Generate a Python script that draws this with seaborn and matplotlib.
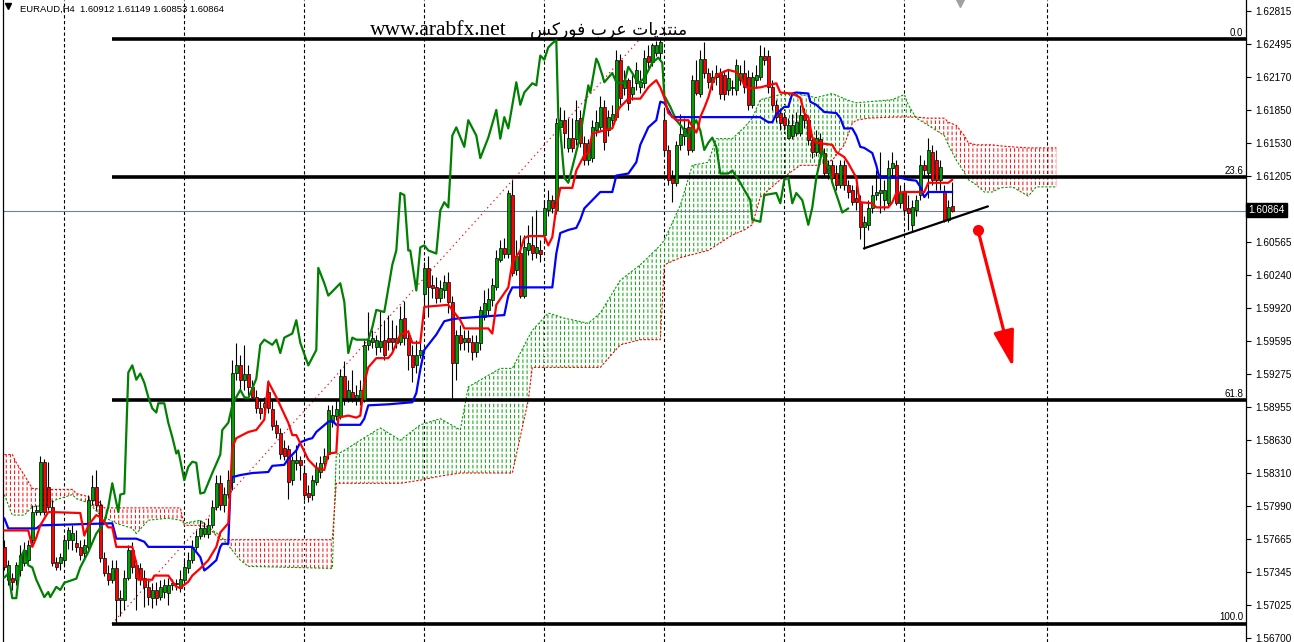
import numpy as np
import matplotlib
matplotlib.use("Agg")
import matplotlib.pyplot as plt
import seaborn as sns

# ---- values (x = bar index, y = price) ----
header_text = "EURAUD,H4  1.60912 1.61149 1.60853 1.60864"
last_price = 1.60864

bar_open = [
    1.5759, 1.5727, 1.5729, 1.5727, 1.5736, 1.5743, 1.5746, 1.5766, 1.5793, 1.5793,
    1.5842, 1.5817, 1.5798, 1.5744, 1.5743, 1.5746, 1.5766, 1.5766, 1.5763, 1.5759,
    1.5753, 1.5759, 1.5805, 1.5817, 1.5800, 1.5748, 1.5734, 1.5727, 1.5738, 1.5707,
    1.5707, 1.5729, 1.5756, 1.5741, 1.5738, 1.5729, 1.5720, 1.5709, 1.5717, 1.5710,
    1.5715, 1.5714, 1.5722, 1.5724, 1.5719, 1.5727, 1.5738, 1.5746, 1.5759, 1.5770,
    1.5772, 1.5772, 1.5780, 1.5798, 1.5821, 1.5800, 1.5811, 1.5822, 1.5929, 1.5936,
    1.5922, 1.5928, 1.5915, 1.5905, 1.5894, 1.5895, 1.5910, 1.5893, 1.5878, 1.5870,
    1.5855, 1.5854, 1.5824, 1.5841, 1.5844, 1.5831, 1.5812, 1.5810, 1.5822, 1.5832,
    1.5841, 1.5850, 1.5881, 1.5887, 1.5887, 1.5926, 1.5904, 1.5910, 1.5904, 1.5904,
    1.5902, 1.5956, 1.5959, 1.5954, 1.5954, 1.5961, 1.5963, 1.5963, 1.5958, 1.5959,
    1.5982, 1.5963, 1.5946, 1.5936, 1.5946, 1.6006, 1.6031, 1.6014, 1.6012, 1.6002,
    1.6009, 1.6017, 1.5998, 1.5938, 1.5966, 1.5959, 1.5963, 1.5959, 1.5949, 1.5958,
    1.5983, 1.5990, 1.6000, 1.6012, 1.6039, 1.6050, 1.6045, 1.6102, 1.6029, 1.6046,
    1.6004, 1.6048, 1.6053, 1.6046, 1.6048, 1.6063, 1.6087, 1.6097, 1.6087, 1.6168,
    1.6175, 1.6148, 1.6158, 1.6157, 1.6177, 1.6153, 1.6136, 1.6138, 1.6165, 1.6168,
    1.6188, 1.6165, 1.6175, 1.6178, 1.6234, 1.6206, 1.6214, 1.6201, 1.6211, 1.6207,
    1.6211, 1.6238, 1.6232, 1.6241, 1.6241, 1.6175, 1.6146, 1.6119, 1.6114, 1.6151,
    1.6160, 1.6168, 1.6146, 1.6214, 1.6201, 1.6235, 1.6221, 1.6212, 1.6217, 1.6221,
    1.6219, 1.6204, 1.6206, 1.6204, 1.6214, 1.6221, 1.6217, 1.6190, 1.6214, 1.6217,
    1.6238, 1.6238, 1.6207, 1.6190, 1.6182, 1.6178, 1.6158, 1.6160, 1.6163, 1.6163,
    1.6180, 1.6175, 1.6156, 1.6144, 1.6157, 1.6143, 1.6124, 1.6131, 1.6124, 1.6112,
    1.6131, 1.6112, 1.6107, 1.6099, 1.6095, 1.6071, 1.6073, 1.6089, 1.6102, 1.6104,
    1.6097, 1.6094, 1.6128, 1.6131, 1.6094, 1.6105, 1.6089, 1.6073, 1.6087, 1.6102,
    1.6131, 1.6124, 1.6144, 1.6136, 1.6117, 1.6105, 1.6078, 1.60912,
]
bar_high = [
    1.5766, 1.5746, 1.5734, 1.5744, 1.5761, 1.5764, 1.5766, 1.5800, 1.5800, 1.5848,
    1.5845, 1.5842, 1.5805, 1.5749, 1.5753, 1.5770, 1.5778, 1.5780, 1.5775, 1.5766,
    1.5767, 1.5810, 1.5829, 1.5834, 1.5805, 1.5754, 1.5741, 1.5746, 1.5746, 1.5717,
    1.5736, 1.5761, 1.5764, 1.5746, 1.5743, 1.5736, 1.5727, 1.5724, 1.5725, 1.5727,
    1.5728, 1.5729, 1.5728, 1.5728, 1.5736, 1.5746, 1.5754, 1.5766, 1.5775, 1.5785,
    1.5783, 1.5787, 1.5805, 1.5829, 1.5829, 1.5817, 1.5834, 1.5941, 1.5958, 1.5946,
    1.5956, 1.5936, 1.5922, 1.5912, 1.5902, 1.5905, 1.5922, 1.5902, 1.5883, 1.5875,
    1.5863, 1.5858, 1.5848, 1.5858, 1.5848, 1.5839, 1.5819, 1.5829, 1.5842, 1.5848,
    1.5855, 1.5897, 1.5897, 1.5902, 1.5932, 1.5940, 1.5922, 1.5931, 1.5917, 1.5922,
    1.5961, 1.5988, 1.5970, 1.5966, 1.5990, 1.5980, 1.5985, 1.5980, 1.5975, 1.5994,
    1.5999, 1.5970, 1.5956, 1.5961, 1.5961, 1.6037, 1.6043, 1.6024, 1.6022, 1.6019,
    1.6024, 1.6027, 1.6004, 1.5970, 1.5975, 1.5970, 1.5970, 1.5966, 1.5966, 1.5994,
    1.6009, 1.6011, 1.6021, 1.6048, 1.6058, 1.6060, 1.6107, 1.6117, 1.6058, 1.6063,
    1.6063, 1.6073, 1.6082, 1.6087, 1.6058, 1.6097, 1.6107, 1.6102, 1.6177, 1.6188,
    1.6185, 1.6177, 1.6177, 1.6195, 1.6185, 1.6160, 1.6157, 1.6175, 1.6185, 1.6199,
    1.6195, 1.6185, 1.6190, 1.6243, 1.6240, 1.6224, 1.6216, 1.6219, 1.6232, 1.6224,
    1.6243, 1.6248, 1.6250, 1.6252, 1.6254, 1.6185, 1.6151, 1.6126, 1.6155, 1.6181,
    1.6177, 1.6175, 1.6219, 1.6234, 1.6243, 1.6251, 1.6226, 1.6224, 1.6229, 1.6226,
    1.6224, 1.6224, 1.6214, 1.6235, 1.6229, 1.6234, 1.6224, 1.6222, 1.6229, 1.6248,
    1.6246, 1.6243, 1.6214, 1.6195, 1.6187, 1.6183, 1.6177, 1.6181, 1.6183, 1.6190,
    1.6187, 1.6180, 1.6160, 1.6165, 1.6163, 1.6148, 1.6136, 1.6136, 1.6131, 1.6136,
    1.6136, 1.6117, 1.6112, 1.6112, 1.6102, 1.6082, 1.6097, 1.6112, 1.6126, 1.6144,
    1.6117, 1.6136, 1.6144, 1.6136, 1.6112, 1.6112, 1.6102, 1.6097, 1.6102, 1.6141,
    1.6136, 1.6158, 1.6151, 1.6146, 1.6136, 1.6112, 1.6097, 1.61149,
]
bar_low = [
    1.5736, 1.5722, 1.5717, 1.5722, 1.5731, 1.5740, 1.5744, 1.5761, 1.5790, 1.5790,
    1.5790, 1.5795, 1.5740, 1.5736, 1.5736, 1.5741, 1.5757, 1.5756, 1.5754, 1.5746,
    1.5746, 1.5756, 1.5800, 1.5795, 1.5744, 1.5731, 1.5722, 1.5724, 1.5685, 1.5692,
    1.5697, 1.5727, 1.5734, 1.5697, 1.5722, 1.5700, 1.5702, 1.5699, 1.5702, 1.5707,
    1.5709, 1.5702, 1.5717, 1.5717, 1.5715, 1.5724, 1.5734, 1.5743, 1.5756, 1.5767,
    1.5769, 1.5768, 1.5777, 1.5795, 1.5795, 1.5793, 1.5807, 1.5814, 1.5922, 1.5912,
    1.5912, 1.5907, 1.5902, 1.5890, 1.5884, 1.5890, 1.5890, 1.5873, 1.5865, 1.5845,
    1.5844, 1.5806, 1.5819, 1.5834, 1.5824, 1.5805, 1.5803, 1.5805, 1.5819, 1.5826,
    1.5837, 1.5845, 1.5876, 1.5883, 1.5884, 1.5897, 1.5900, 1.5900, 1.5897, 1.5897,
    1.5900, 1.5951, 1.5953, 1.5946, 1.5949, 1.5941, 1.5951, 1.5951, 1.5953, 1.5956,
    1.5956, 1.5931, 1.5920, 1.5929, 1.5943, 1.5983, 1.5983, 1.6002, 1.5997, 1.5998,
    1.6002, 1.5987, 1.5904, 1.5922, 1.5951, 1.5951, 1.5949, 1.5941, 1.5944, 1.5951,
    1.5980, 1.5985, 1.5994, 1.6009, 1.6037, 1.6041, 1.6041, 1.6023, 1.6024, 1.6002,
    1.6002, 1.6044, 1.6039, 1.6041, 1.6037, 1.6058, 1.6082, 1.6085, 1.6084, 1.6160,
    1.6148, 1.6144, 1.6144, 1.6151, 1.6149, 1.6131, 1.6131, 1.6134, 1.6160, 1.6165,
    1.6146, 1.6160, 1.6168, 1.6175, 1.6190, 1.6200, 1.6185, 1.6195, 1.6204, 1.6202,
    1.6206, 1.6226, 1.6228, 1.6238, 1.6235, 1.6141, 1.6112, 1.6095, 1.6111, 1.6146,
    1.6151, 1.6141, 1.6144, 1.6200, 1.6198, 1.6216, 1.6206, 1.6204, 1.6209, 1.6196,
    1.6195, 1.6200, 1.6200, 1.6200, 1.6209, 1.6202, 1.6185, 1.6187, 1.6206, 1.6214,
    1.6229, 1.6202, 1.6185, 1.6173, 1.6165, 1.6165, 1.6157, 1.6157, 1.6160, 1.6160,
    1.6167, 1.6151, 1.6138, 1.6140, 1.6138, 1.6120, 1.6118, 1.6117, 1.6107, 1.6109,
    1.6107, 1.6099, 1.6092, 1.6087, 1.6059, 1.6049, 1.6068, 1.6085, 1.6097, 1.6085,
    1.6087, 1.6091, 1.6121, 1.6092, 1.6089, 1.6082, 1.6068, 1.6066, 1.6082, 1.6097,
    1.6121, 1.6099, 1.6112, 1.6107, 1.6107, 1.6076, 1.6076, 1.60853,
]
bar_close = [
    1.5739, 1.5741, 1.5725, 1.5741, 1.5751, 1.5756, 1.5761, 1.5793, 1.5795, 1.5842,
    1.5793, 1.5798, 1.5743, 1.5739, 1.5749, 1.5766, 1.5775, 1.5773, 1.5759, 1.5751,
    1.5761, 1.5805, 1.5817, 1.5800, 1.5748, 1.5734, 1.5727, 1.5738, 1.5707, 1.5709,
    1.5729, 1.5756, 1.5739, 1.5729, 1.5728, 1.5720, 1.5710, 1.5717, 1.5709, 1.5720,
    1.5722, 1.5722, 1.5724, 1.5723, 1.5728, 1.5739, 1.5746, 1.5759, 1.5770, 1.5777,
    1.5777, 1.5780, 1.5798, 1.5821, 1.5800, 1.5811, 1.5824, 1.5929, 1.5936, 1.5922,
    1.5928, 1.5915, 1.5905, 1.5894, 1.5890, 1.5899, 1.5894, 1.5877, 1.5870, 1.5850,
    1.5848, 1.5822, 1.5844, 1.5844, 1.5839, 1.5810, 1.5808, 1.5824, 1.5836, 1.5841,
    1.5848, 1.5892, 1.5888, 1.5893, 1.5926, 1.5904, 1.5912, 1.5904, 1.5907, 1.5912,
    1.5956, 1.5961, 1.5963, 1.5961, 1.5960, 1.5946, 1.5959, 1.5959, 1.5963, 1.5981,
    1.5963, 1.5946, 1.5934, 1.5946, 1.5951, 1.6031, 1.6012, 1.6011, 1.6002, 1.6011,
    1.6017, 1.5998, 1.5938, 1.5966, 1.5958, 1.5963, 1.5959, 1.5949, 1.5959, 1.5990,
    1.5997, 1.6001, 1.6014, 1.6041, 1.6050, 1.6045, 1.6104, 1.6026, 1.6043, 1.6004,
    1.6051, 1.6055, 1.6046, 1.6051, 1.6045, 1.6089, 1.6097, 1.6089, 1.6172, 1.6175,
    1.6163, 1.6158, 1.6148, 1.6175, 1.6153, 1.6136, 1.6153, 1.6168, 1.6173, 1.6188,
    1.6154, 1.6178, 1.6181, 1.6234, 1.6197, 1.6214, 1.6192, 1.6207, 1.6224, 1.6212,
    1.6236, 1.6232, 1.6248, 1.6248, 1.6251, 1.6146, 1.6117, 1.6114, 1.6151, 1.6162,
    1.6167, 1.6146, 1.6214, 1.6202, 1.6235, 1.6221, 1.6212, 1.6217, 1.6221, 1.6201,
    1.6201, 1.6216, 1.6207, 1.6229, 1.6221, 1.6207, 1.6190, 1.6217, 1.6219, 1.6238,
    1.6234, 1.6207, 1.6190, 1.6178, 1.6172, 1.6170, 1.6170, 1.6170, 1.6173, 1.6180,
    1.6175, 1.6156, 1.6144, 1.6158, 1.6143, 1.6124, 1.6131, 1.6119, 1.6112, 1.6131,
    1.6112, 1.6105, 1.6095, 1.6095, 1.6071, 1.6076, 1.6089, 1.6102, 1.6105, 1.6107,
    1.6107, 1.6128, 1.6133, 1.6094, 1.6105, 1.6087, 1.6085, 1.6090, 1.6097, 1.6131,
    1.6126, 1.6146, 1.6117, 1.6117, 1.6129, 1.6078, 1.6090, 1.60864,
]

# Ichimoku lines (vertices: bar index, price)
tenkan_bar = [0, 6, 7, 8, 9, 11, 19, 20, 21, 23, 24, 26, 27, 28, 32, 33, 33.5, 37, 37.5, 41,
              43, 44, 46, 47, 49, 51, 53, 54, 56, 56.5, 57, 58, 61, 63, 65, 66, 68, 71, 72, 73,
              76, 78, 80, 81, 83, 83.5, 86, 88, 89, 90, 91, 93, 96, 97, 99, 101, 102, 104, 105, 111,
              112, 114, 115, 121, 122, 123, 126, 127, 129, 130, 131, 135, 136, 137, 138, 139, 142, 143, 145, 146,
              147, 152, 153, 153.5, 154, 156, 159, 161, 161.5, 163, 164, 165, 166, 168, 171, 173, 173.5, 174, 175, 176,
              177, 178, 181, 183, 184, 185, 186, 189, 193, 194, 197, 199, 200, 201, 202, 203, 207, 208, 210, 211,
              213, 213.5, 214, 217, 218, 221, 222, 223, 225, 230, 231, 236, 237]
tenkan = [1.5775, 1.5775, 1.5759, 1.5768, 1.5780, 1.5793, 1.5792, 1.5770, 1.5780, 1.5790,
          1.5788, 1.5778, 1.5778, 1.5759, 1.5759, 1.5743, 1.5727, 1.5727, 1.5731, 1.5731,
          1.5720, 1.5719, 1.5725, 1.5731, 1.5738, 1.5746, 1.5759, 1.5773, 1.5782, 1.5817,
          1.5856, 1.5865, 1.5871, 1.5873, 1.5883, 1.5920, 1.5905, 1.5880, 1.5868, 1.5868,
          1.5844, 1.5836, 1.5834, 1.5850, 1.5851, 1.5885, 1.5887, 1.5885, 1.5887, 1.5919,
          1.5934, 1.5943, 1.5943, 1.5948, 1.5966, 1.5969, 1.5958, 1.5958, 1.5993, 1.5995,
          1.5990, 1.5980, 1.5972, 1.5972, 1.5967, 1.5995, 1.6012, 1.6036, 1.6048, 1.6060,
          1.6062, 1.6062, 1.6053, 1.6061, 1.6090, 1.6109, 1.6109, 1.6126, 1.6141, 1.6143,
          1.6162, 1.6167, 1.6178, 1.6185, 1.6188, 1.6196, 1.6196, 1.6207, 1.6209, 1.6214,
          1.6207, 1.6197, 1.6182, 1.6175, 1.6175, 1.6163, 1.6168, 1.6178, 1.6187, 1.6197,
          1.6211, 1.6219, 1.6224, 1.6222, 1.6217, 1.6209, 1.6206, 1.6207, 1.6211, 1.6202,
          1.6201, 1.6197, 1.6182, 1.6178, 1.6158, 1.6153, 1.6151, 1.6144, 1.6139, 1.6133,
          1.6119, 1.6104, 1.6095, 1.6094, 1.6090, 1.6090, 1.6095, 1.6104, 1.6105, 1.6105,
          1.6114, 1.6114, 1.6117]

kijun_bar = [0, 1, 8, 9, 27, 28, 33, 35, 36, 47, 49, 50, 51, 53, 54, 54.5, 56, 56.5, 57, 59,
             62, 66, 67, 70, 71, 73, 74, 76, 77, 78, 81, 82, 83, 89, 90, 91, 96, 102, 103, 104,
             105, 107, 108, 110, 112, 114, 125, 126, 127, 137, 138, 139, 141, 143, 144, 145, 147, 149, 152, 153,
             156, 158, 159, 161, 163, 164, 165, 167, 189, 191, 192, 193, 195, 196, 197, 198, 201, 201.5, 203, 205,
             208, 209, 210, 212, 213, 214, 215, 217, 218, 218.5, 219, 224, 226, 228, 229, 230, 231, 237]
kijun = [1.5787, 1.5777, 1.5777, 1.5780, 1.5782, 1.5767, 1.5767, 1.5764, 1.5759, 1.5759,
         1.5749, 1.5736, 1.5739, 1.5746, 1.5759, 1.5762, 1.5762, 1.5814, 1.5827, 1.5829,
         1.5831, 1.5832, 1.5838, 1.5839, 1.5845, 1.5853, 1.5861, 1.5864, 1.5865, 1.5871,
         1.5881, 1.5882, 1.5878, 1.5878, 1.5884, 1.5897, 1.5898, 1.5900, 1.5909, 1.5932,
         1.5951, 1.5961, 1.5966, 1.5979, 1.5981, 1.5982, 1.5985, 1.6004, 1.6012, 1.6012,
         1.6045, 1.6065, 1.6068, 1.6070, 1.6078, 1.6089, 1.6097, 1.6105, 1.6105, 1.6121,
         1.6123, 1.6134, 1.6151, 1.6168, 1.6175, 1.6193, 1.6192, 1.6178, 1.6178, 1.6173,
         1.6173, 1.6181, 1.6188, 1.6188, 1.6201, 1.6202, 1.6201, 1.6193, 1.6190, 1.6183,
         1.6182, 1.6177, 1.6167, 1.6167, 1.6160, 1.6149, 1.6148, 1.6143, 1.6131, 1.6123,
         1.6119, 1.6119, 1.6117, 1.6116, 1.6110, 1.6100, 1.6105, 1.6105]

chikou_bar = [0, 1, 2, 3, 3.5, 4, 5, 6, 7, 8, 10, 11, 11.5, 13, 14, 15, 18, 19, 21, 23,
              25, 26, 27, 28, 28.5, 29, 30, 31, 32, 33, 34, 35, 36, 37, 38, 38.5, 40, 41, 42, 43,
              43.5, 45, 46, 47, 48, 49, 50, 52, 54, 54.5, 56, 57, 58, 59, 60, 61, 63, 64, 65, 67,
              68, 69, 70, 72, 73, 74, 76, 78, 78.5, 80, 81, 84, 85, 86, 87, 88, 91, 92, 93, 95,
              96, 97, 98, 99, 100, 101, 101.5, 103, 104, 105, 106, 108, 109, 110, 111, 111.5, 112, 113, 115, 116,
              118, 119, 121, 123, 124, 125, 126, 128, 129, 130, 132, 133, 134, 135, 136, 137, 138, 138.5, 139, 140,
              141, 142, 144, 146, 146.5, 148, 148.5, 149.5, 150, 152, 153, 155, 156, 157, 158.5, 160, 162, 163.5, 164.5, 165,
              166.5, 168, 169.5, 171, 171.5, 173, 174, 175, 176, 177, 178, 179, 181, 182, 184, 185, 186.5, 187, 189, 190,
              193, 194, 195, 196, 197, 198, 199.5, 201, 202, 203, 204.5, 205, 206.5, 207, 208.5, 209.5, 211]
chikou = [1.5729, 1.5733, 1.5709, 1.5709, 1.5727, 1.5748, 1.5756, 1.5741, 1.5739, 1.5727,
          1.5710, 1.5715, 1.5710, 1.5720, 1.5717, 1.5724, 1.5728, 1.5739, 1.5754, 1.5772,
          1.5783, 1.5798, 1.5821, 1.5802, 1.5793, 1.5810, 1.5811, 1.5929, 1.5936, 1.5922,
          1.5928, 1.5919, 1.5905, 1.5894, 1.5890, 1.5899, 1.5899, 1.5880, 1.5866, 1.5850,
          1.5853, 1.5824, 1.5837, 1.5842, 1.5841, 1.5811, 1.5812, 1.5831, 1.5849, 1.5873,
          1.5880, 1.5897, 1.5905, 1.5912, 1.5905, 1.5904, 1.5923, 1.5956, 1.5961, 1.5956,
          1.5961, 1.5948, 1.5963, 1.5967, 1.5980, 1.5958, 1.5936, 1.5951, 1.6031, 1.6016,
          1.6004, 1.6016, 1.5998, 1.5948, 1.5963, 1.5961, 1.5961, 1.5973, 1.5990, 1.5988,
          1.6011, 1.6034, 1.6048, 1.6104, 1.6102, 1.6048, 1.6048, 1.6009, 1.6051, 1.6053,
          1.6048, 1.6045, 1.6087, 1.6095, 1.6090, 1.6123, 1.6160, 1.6168, 1.6149, 1.6175,
          1.6160, 1.6138, 1.6158, 1.6185, 1.6157, 1.6178, 1.6167, 1.6212, 1.6190, 1.6202,
          1.6211, 1.6209, 1.6238, 1.6234, 1.6246, 1.6250, 1.6253, 1.6178, 1.6165, 1.6119,
          1.6114, 1.6129, 1.6160, 1.6209, 1.6202, 1.6235, 1.6231, 1.6219, 1.6212, 1.6221,
          1.6212, 1.6211, 1.6227, 1.6221, 1.6211, 1.6216, 1.6231, 1.6236, 1.6231, 1.6199,
          1.6188, 1.6175, 1.6168, 1.6158, 1.6165, 1.6175, 1.6165, 1.6146, 1.6153, 1.6158,
          1.6149, 1.6123, 1.6123, 1.6126, 1.6114, 1.6107, 1.6097, 1.6078, 1.6076, 1.6102,
          1.6104, 1.6094, 1.6117, 1.6119, 1.6094, 1.6104, 1.6097, 1.6073, 1.6090, 1.6119,
          1.6146, 1.6139, 1.6123, 1.6114, 1.6097, 1.6085, 1.6089]

cloud_bar = [0, 2, 3, 5, 7, 11, 13, 17, 18, 21, 24, 25, 28, 32, 33, 36, 41, 44, 45, 49,
             51, 54, 59, 61, 82, 83, 85, 89, 94, 99, 104, 109, 114, 116, 124, 127, 131, 132, 136, 140,
             146, 149, 154, 159, 164, 165, 169, 172, 176, 178, 182, 185, 187, 189, 194, 199, 203, 207, 210, 212,
             213, 216, 222, 225, 226, 228, 231, 235, 236, 238, 240, 241, 243, 245, 247, 249, 252, 256, 258, 263]
span_a = [1.5810, 1.5790, 1.5790, 1.5790, 1.5798, 1.5800, 1.5805, 1.5810, 1.5806, 1.5802,
          1.5790, 1.5788, 1.5782, 1.5777, 1.5772, 1.5785, 1.5787, 1.5785, 1.5782, 1.5785,
          1.5778, 1.5770, 1.5746, 1.5740, 1.5738, 1.5849, 1.5853, 1.5863, 1.5875, 1.5863,
          1.5878, 1.5884, 1.5873, 1.5915, 1.5933, 1.5933, 1.5963, 1.5970, 1.5987, 1.5982,
          1.5977, 1.5987, 1.6019, 1.6034, 1.6053, 1.6058, 1.6092, 1.6131, 1.6134, 1.6157,
          1.6157, 1.6168, 1.6177, 1.6195, 1.6200, 1.6200, 1.6197, 1.6201, 1.6196, 1.6193,
          1.6192, 1.6193, 1.6195, 1.6200, 1.6190, 1.6177, 1.6170, 1.6160, 1.6151, 1.6136,
          1.6124, 1.6117, 1.6112, 1.6105, 1.6105, 1.6109, 1.6110, 1.6101, 1.6110, 1.6110]
span_b = [1.5849, 1.5849, 1.5841, 1.5829, 1.5816, 1.5815, 1.5815, 1.5815, 1.5811, 1.5808,
          1.5802, 1.5797, 1.5797, 1.5797, 1.5797, 1.5797, 1.5797, 1.5797, 1.5780, 1.5780,
          1.5778, 1.5766, 1.5766, 1.5766, 1.5766, 1.5821, 1.5821, 1.5821, 1.5821, 1.5821,
          1.5824, 1.5828, 1.5831, 1.5831, 1.5831, 1.5831, 1.5902, 1.5934, 1.5934, 1.5934,
          1.5934, 1.5934, 1.5956, 1.5961, 1.5961, 1.6034, 1.6041, 1.6044, 1.6048, 1.6053,
          1.6063, 1.6068, 1.6073, 1.6100, 1.6117, 1.6131, 1.6131, 1.6136, 1.6151, 1.6172,
          1.6175, 1.6177, 1.6178, 1.6178, 1.6178, 1.6178, 1.6177, 1.6177, 1.6173, 1.6170,
          1.6160, 1.6153, 1.6151, 1.6151, 1.6151, 1.6150, 1.6149, 1.6148, 1.6148, 1.6148]

# drawn objects
fib_levels = [1.6254, 1.61194, 1.5902, 1.5684]
fib_labels = ["0.0", "23.6", "61.8", "100.0"]
fib_start_bar = 26.9
fib_diag_bar = [26.9, 158.9]
fib_diag_price = [1.5684, 1.6254]
trend_bar = [214.9, 245.9]
trend_price = [1.6050, 1.6091]
arrow_bar = [243.4, 252.2]
arrow_price = [1.6068, 1.5934]
week_sep_bar = [14.9, 44.9, 74.9, 104.9, 134.9, 164.9, 194.9, 224.9, 260.7]
price_ticks = [1.62815, 1.62495, 1.62170, 1.61850, 1.61530, 1.61205, 1.60565, 1.60240,
               1.59920, 1.59595, 1.59275, 1.58955, 1.58630, 1.58310, 1.57990, 1.57665,
               1.57345, 1.57025, 1.56700]

for a_, b_ in [(bar_open, bar_close), (bar_high, bar_low), (tenkan_bar, tenkan),
               (kijun_bar, kijun), (chikou_bar, chikou), (cloud_bar, span_a), (cloud_bar, span_b)]:
    assert len(a_) == len(b_), (len(a_), len(b_))

sns.set_theme(style="white")
plt.rcParams["font.family"] = ["Liberation Sans", "DejaVu Sans"]
plt.rcParams["hatch.linewidth"] = 0.7

W, H = 1294, 642
fig = plt.figure(figsize=(W / 100, H / 100), dpi=100)
fig.patch.set_facecolor("white")
ax = fig.add_axes([3 / W, 0, 1243 / W, 1])
ax.set_facecolor("white")
ax.set_xlim(-0.325, 310.425)
ax.set_ylim(1.566625, 1.62922)

# week separators
for xb in week_sep_bar:
    ax.axvline(xb, color="black", lw=0.8, ls=(0, (3, 2.2)), zorder=0.5)

# cloud: vertical hatch broken into dashes by a white horizontal hatch
cx = np.array(cloud_bar, dtype=float)
sa = np.array(span_a)
sb = np.array(span_b)
with plt.rc_context({"hatch.linewidth": 0.7}):
    ax.fill_between(cx, sa, sb, where=sa >= sb, interpolate=True, facecolor="none",
                    edgecolor="#00a000", hatch="||||", linewidth=0, zorder=1)
    ax.fill_between(cx, sa, sb, where=sa < sb, interpolate=True, facecolor="none",
                    edgecolor="#ff0000", hatch="||||", linewidth=0, zorder=1)
with plt.rc_context({"hatch.linewidth": 1.5}):
    ax.fill_between(cx, sa, sb, facecolor="none", edgecolor="white", hatch="---",
                    linewidth=0, zorder=1.1)
ax.plot(cx, sa, color="#00a000", lw=0.8, ls=(0, (2, 1.5)), zorder=1.2)
ax.plot(cx, sb, color="#ff0000", lw=0.8, ls=(0, (2, 1.5)), zorder=1.2)

# fibonacci
ax.plot(fib_diag_bar, fib_diag_price, color="red", lw=0.8, ls=(0, (1.2, 3)), zorder=2)
ax.hlines(fib_levels, fib_start_bar, 310.425, color="black", lw=2.6, zorder=2.5)
for lv, lb in zip(fib_levels, fib_labels):
    ax.annotate(lb, (309.7, lv), xytext=(0, 1.2), textcoords="offset points",
                ha="right", va="bottom", fontsize=7, color="black", zorder=6)

# bid line
ax.axhline(last_price, color="#708090", lw=0.8, zorder=2)

# candles
op = np.array(bar_open)
cl = np.array(bar_close)
idx = np.arange(len(op))
ax.vlines(idx, bar_low, bar_high, color="black", lw=0.8, zorder=3)
body_lo = np.minimum(op, cl)
body_h = np.maximum(np.abs(cl - op), 0.00004)
colors = np.where(cl >= op, "#00a000", "#ff0000")
ax.bar(idx, body_h, bottom=body_lo, width=0.78, color=colors, edgecolor="black",
       linewidth=0.5, zorder=4)

# ichimoku lines
sns.lineplot(x=chikou_bar, y=chikou, color="#008000", lw=1.6, ax=ax, estimator=None,
             sort=False, zorder=5)
sns.lineplot(x=kijun_bar, y=kijun, color="#0000ff", lw=1.6, ax=ax, estimator=None,
             sort=False, zorder=5)
sns.lineplot(x=tenkan_bar, y=tenkan, color="#ff0000", lw=1.6, ax=ax, estimator=None,
             sort=False, zorder=5)

# trend line and forecast arrow
ax.plot(trend_bar, trend_price, color="black", lw=1.6, zorder=6)
ax.plot(arrow_bar[0], arrow_price[0], "o", color="#ff0000", ms=7, zorder=7)
ax.annotate("", xy=(arrow_bar[1], arrow_price[1]), xytext=(arrow_bar[0], arrow_price[0]),
            arrowprops=dict(arrowstyle="-|>,head_length=1.5,head_width=0.42",
                            mutation_scale=15, color="#ff0000", lw=2.3,
                            shrinkA=0, shrinkB=0), zorder=7)

# axes styling
ax.set_xticks([])
ax.set_xlabel("")
ax.set_ylabel("")
ax.yaxis.tick_right()
ax.set_yticks(price_ticks)
ax.set_yticklabels([f"{t:.5f}" for t in price_ticks])
ax.tick_params(axis="y", which="major", direction="out", length=3.5, width=0.8,
               pad=3, labelsize=7.2, colors="black", right=True, left=False)
for side in ["top", "bottom"]:
    ax.spines[side].set_visible(False)
for side in ["left", "right"]:
    ax.spines[side].set_visible(True)
    ax.spines[side].set_color("black")
    ax.spines[side].set_linewidth(0.9)

# texts
fig.text(20 / W, 1 - 9 / H, header_text, fontsize=6.8, va="center", ha="left", color="black")
fig.text(370 / W, 1 - 35 / H, "www.arabfx.net", fontsize=15.5, family="Liberation Serif",
         va="baseline", ha="left", color="black")
arabic = "\ufeb2\ufedb\ufead\ufeee\ufed3 \ufe8f\ufeae\ufecb \ufe95\ufe8e\ufef3\ufeaa\ufe98\ufee8\ufee3"
fig.text(530 / W, 1 - 35 / H, arabic, fontsize=12.3, family=["DejaVu Sans"],
         va="baseline", ha="left", color="black")
fig.text(1248 / W, 1 - 210 / H, f"{last_price:.5f}", fontsize=7.2, color="white",
         va="center", ha="left",
         bbox=dict(boxstyle="square,pad=0.22", fc="black", ec="black"))
ax.plot([8 / W], [1 - 6 / H], marker="v", ms=5, color="black", transform=fig.transFigure,
        clip_on=False)
ax.plot([960 / W], [1 - 2 / H], marker="v", ms=7, color="#a0a0a0", transform=fig.transFigure,
        clip_on=False)

fig.savefig("out.png", dpi=100)
